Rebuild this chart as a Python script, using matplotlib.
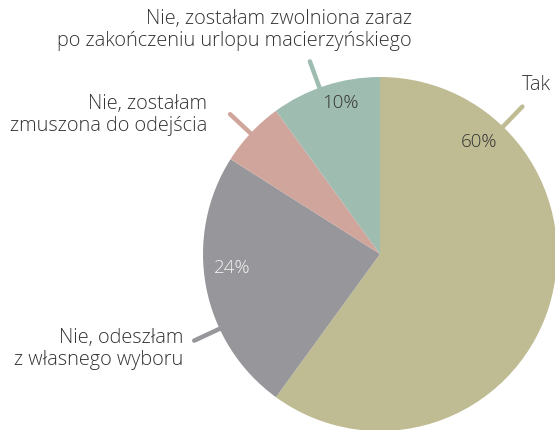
import matplotlib
matplotlib.use("Agg")
import matplotlib.pyplot as plt
import numpy as np

categories = ["Tak", "Nie, odeszłam\nz własnego wyboru", "Nie, zostałam\nzmuszona do odejścia",
              "Nie, zostałam zwolniona zaraz\npo zakończeniu urlopu macierzyńskiego"]
values = [60, 24, 6, 10]
pct_labels = ["60%", "24%", "", "10%"]
colors = ["#bfbb92", "#97979b", "#cfa59c", "#9fbcb0"]

W, H = 555, 430
fig = plt.figure(figsize=(W / 100, H / 100), dpi=100)
ax = fig.add_axes([0, 0, 1, 1])

cx, cy, R = 380, H - 254, 177

# leader lines (angles in degrees, measured counterclockwise from +x)
leader_angles = [46, 205, 137, 110]
for ang, col in zip(leader_angles, colors):
    a = np.deg2rad(ang)
    r0, r1 = R - 5, R + 28
    ax.plot([cx + r0 * np.cos(a), cx + r1 * np.cos(a)],
            [cy + r0 * np.sin(a), cy + r1 * np.sin(a)],
            color=col, lw=3.2, solid_capstyle="round", zorder=1)

ax.pie(values, colors=colors, startangle=90, counterclock=False,
       center=(cx, cy), radius=R, frame=True,
       wedgeprops=dict(linewidth=0, zorder=2))
ax.set_xlim(0, W)
ax.set_ylim(0, H)
ax.set_aspect("equal")
ax.axis("off")

font = dict(family=["Open Sans", "DejaVu Sans"], fontweight="light")
tc = "#333333"

# percentage labels
pct_pos = [(479, 142), (232, 268), None, (340, 103)]
pct_col = [tc, "#f4f4f4", tc, tc]
for t, p, c in zip(pct_labels, pct_pos, pct_col):
    if p and t:
        ax.text(p[0], H - p[1], t, ha="center", va="center", fontsize=13.5,
                color=c, zorder=5, **font)

# category labels
cat_pos = [(522, 85, "left"), (183, 349, "right"), (207, 115, "right"), (412, 30, "right")]
for t, (x, y, ha) in zip(categories, cat_pos):
    ax.text(x, H - y, t, ha=ha, va="center", fontsize=14.3, color=tc,
            linespacing=1.15, zorder=5, **font)

fig.savefig("out.png", dpi=100)
